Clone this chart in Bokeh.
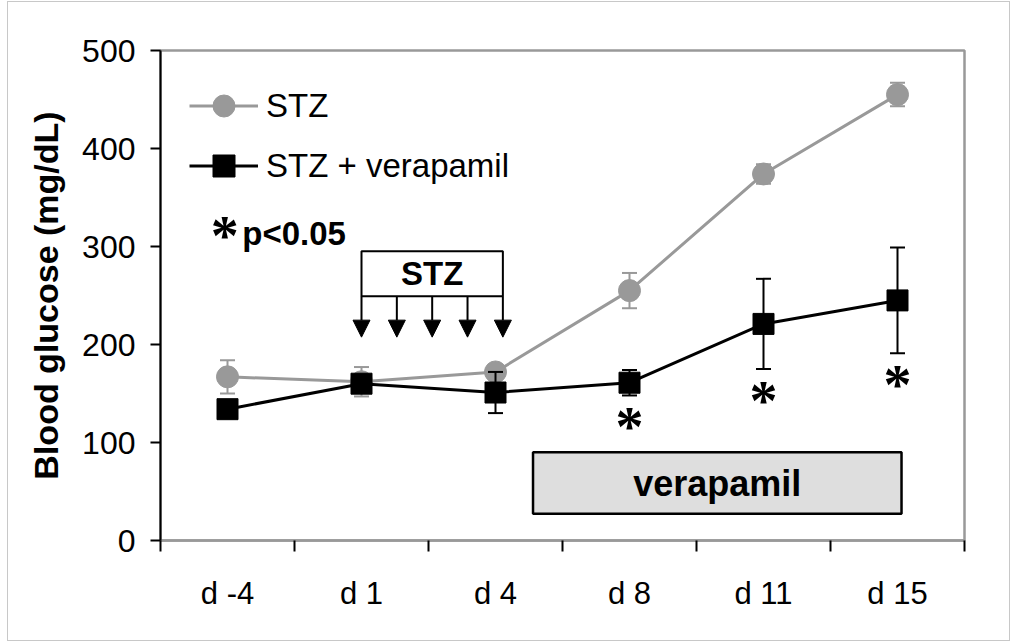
from bokeh.plotting import figure
from bokeh.models import (Range1d, FixedTicker, ColumnDataSource, Legend, LegendItem,
                          Label, BoxAnnotation, Arrow, NormalHead, CustomJSTickFormatter,
                          InlineStyleSheet)
from bokeh.embed import file_html
from bokeh.resources import INLINE
from bokeh.core.properties import value

# Blood glucose (mg/dL), mean and SEM per time point
days = ["d -4", "d 1", "d 4", "d 8", "d 11", "d 15"]
stz_mean = [167, 162, 172, 255, 374, 455]
stz_sem = [17, 15, 5, 18, 10, 12]
vera_mean = [134, 160, 151, 161, 221, 245]
vera_sem = [6, 9, 21, 13, 46, 54]
significant = [False, False, False, True, True, True]
y_ticks = [0, 100, 200, 300, 400, 500]

SANS = "Liberation Sans"
SERIF = "Liberation Serif"
GRAY = "#999999"

n = len(days)
xs = [i + 0.5 for i in range(n)]


def series_source(mean, sem):
    return ColumnDataSource(dict(
        x=xs, y=mean,
        lower=[m - s for m, s in zip(mean, sem)],
        upper=[m + s for m, s in zip(mean, sem)],
    ))


stz_src = series_source(stz_mean, stz_sem)
vera_src = series_source(vera_mean, vera_sem)

p = figure(width=1010, height=642, output_backend="svg", toolbar_location=None,
           x_range=Range1d(0, n), y_range=Range1d(0, 500),
           min_border_left=160, min_border_right=46, min_border_top=50, min_border_bottom=102)
p.background_fill_color = "white"
p.border_fill_color = "white"
p.outline_line_color = GRAY
p.outline_line_width = 2.5
p.xgrid.visible = False
p.ygrid.visible = False

# thin light frame around the whole chart area
p.stylesheets = [InlineStyleSheet(css="""
:host::after {
  content: "";
  position: absolute;
  left: 7px; top: 1px; width: 1003px; height: 640px;
  border: 1px solid #c8c8c8;
  box-sizing: border-box;
  pointer-events: none;
}
""")]

# y axis
yax = p.yaxis[0]
yax.ticker = FixedTicker(ticks=y_ticks, minor_ticks=[])
yax.axis_line_color = "black"
yax.axis_line_width = 2
yax.major_tick_line_color = "black"
yax.major_tick_line_width = 2
yax.major_tick_out = 10
yax.major_tick_in = 0
yax.minor_tick_line_color = None
yax.major_label_text_font = SANS
yax.major_label_text_font_size = "32px"
yax.major_label_text_color = "black"
yax.major_label_standoff = 15
yax.axis_label = "Blood glucose (mg/dL)"
yax.axis_label_text_font = SANS
yax.axis_label_text_font_style = "bold"
yax.axis_label_text_font_size = "34px"
yax.axis_label_text_color = "black"
yax.axis_label_standoff = 14

# x axis: labels at category centres, tick marks on category boundaries
xax = p.xaxis[0]
xax.ticker = FixedTicker(ticks=xs, minor_ticks=list(range(n + 1)))
xax.formatter = CustomJSTickFormatter(args=dict(labels=days),
                                      code="return labels[Math.floor(tick)];")
xax.axis_line_color = GRAY
xax.axis_line_width = 2.5
xax.major_tick_line_color = None
xax.minor_tick_line_color = "black"
xax.minor_tick_line_width = 2
xax.minor_tick_out = 11
xax.minor_tick_in = 0
xax.major_label_text_font = SANS
xax.major_label_text_font_size = "31px"
xax.major_label_text_color = "black"
xax.major_label_standoff = 24

# STZ alone (gray)
stz_line = p.line("x", "y", source=stz_src, line_color=GRAY, line_width=3)
p.segment("x", "lower", "x", "upper", source=stz_src, line_color=GRAY, line_width=2)
p.scatter("x", "upper", source=stz_src, marker="dash", size=15, line_color=GRAY, line_width=2)
p.scatter("x", "lower", source=stz_src, marker="dash", size=15, line_color=GRAY, line_width=2)
stz_pts = p.scatter("x", "y", source=stz_src, marker="circle", size=22,
                    fill_color=GRAY, line_color=GRAY)

# STZ + verapamil (black)
vera_line = p.line("x", "y", source=vera_src, line_color="black", line_width=3)
p.segment("x", "lower", "x", "upper", source=vera_src, line_color="black", line_width=2)
p.scatter("x", "upper", source=vera_src, marker="dash", size=15, line_color="black", line_width=2)
p.scatter("x", "lower", source=vera_src, marker="dash", size=15, line_color="black", line_width=2)
vera_pts = p.scatter("x", "y", source=vera_src, marker="square", size=21,
                     fill_color="black", line_color="black")

# significance stars below the verapamil error bars
star_src = ColumnDataSource(dict(
    x=[x for x, s in zip(xs, significant) if s],
    y=[lo for lo, s in zip(vera_src.data["lower"], significant) if s],
    t=["*" for s in significant if s],
))
p.text("x", "y", text="t", source=star_src, text_font=value(SERIF),
       text_font_style="bold", text_font_size="56px", text_align="center",
       text_baseline="alphabetic", y_offset=32, text_color="black")

legend = Legend(items=[LegendItem(label="STZ", renderers=[stz_line, stz_pts]),
                       LegendItem(label="STZ + verapamil", renderers=[vera_line, vera_pts])],
                location=(29, 347), glyph_width=69, glyph_height=55, spacing=5,
                padding=0, margin=0, label_standoff=8, border_line_color=None,
                background_fill_alpha=0, label_text_font=SANS,
                label_text_font_size="33px", label_text_color="black")
p.add_layout(legend)

# p-value key
p.add_layout(Label(x=0.48, y=313, text="*", text_font=SERIF, text_font_style="bold",
                   text_font_size="56px", text_align="center", text_baseline="alphabetic",
                   y_offset=-2, text_color="black"))
p.add_layout(Label(x=0.61, y=313, text="p<0.05", text_font=SANS, text_font_style="bold",
                   text_font_size="33px", text_baseline="middle", text_color="black"))

# STZ dosing period: box with five daily arrows
dose_left, dose_right, dose_bottom, dose_top = 1.5, 2.555, 249.3, 295.2
p.add_layout(BoxAnnotation(left=dose_left, right=dose_right, bottom=dose_bottom, top=dose_top,
                           fill_color="white", fill_alpha=1, line_color="black",
                           line_alpha=1, line_width=2))
p.add_layout(Label(x=(dose_left + dose_right) / 2, y=(dose_bottom + dose_top) / 2, text="STZ",
                   text_font=SANS, text_font_style="bold", text_font_size="33px",
                   text_align="center", text_baseline="middle", text_color="black"))
n_doses = 5
step = (dose_right - dose_left) / (n_doses - 1)
arrow_src = ColumnDataSource(dict(
    x0=[dose_left + i * step for i in range(n_doses)],
    y0=[dose_bottom] * n_doses,
    y1=[207.5] * n_doses,
))
p.add_layout(Arrow(end=NormalHead(size=17, fill_color="black", line_color="black"),
                   x_start="x0", y_start="y0", x_end="x0", y_end="y1",
                   source=arrow_src, line_color="black", line_width=2))

# verapamil treatment period
vl, vr, vb, vt = 2.78, 5.53, 27.2, 90.1
p.add_layout(BoxAnnotation(left=vl, right=vr, bottom=vb, top=vt, fill_color="#dedede",
                           fill_alpha=1, line_color="black", line_alpha=1, line_width=2.5))
p.add_layout(Label(x=(vl + vr) / 2, y=(vb + vt) / 2, text="verapamil", text_font=SANS,
                   text_font_style="bold", text_font_size="36px", text_align="center",
                   text_baseline="middle", text_color="black"))

open("out.html", "w").write(file_html(p, INLINE))
